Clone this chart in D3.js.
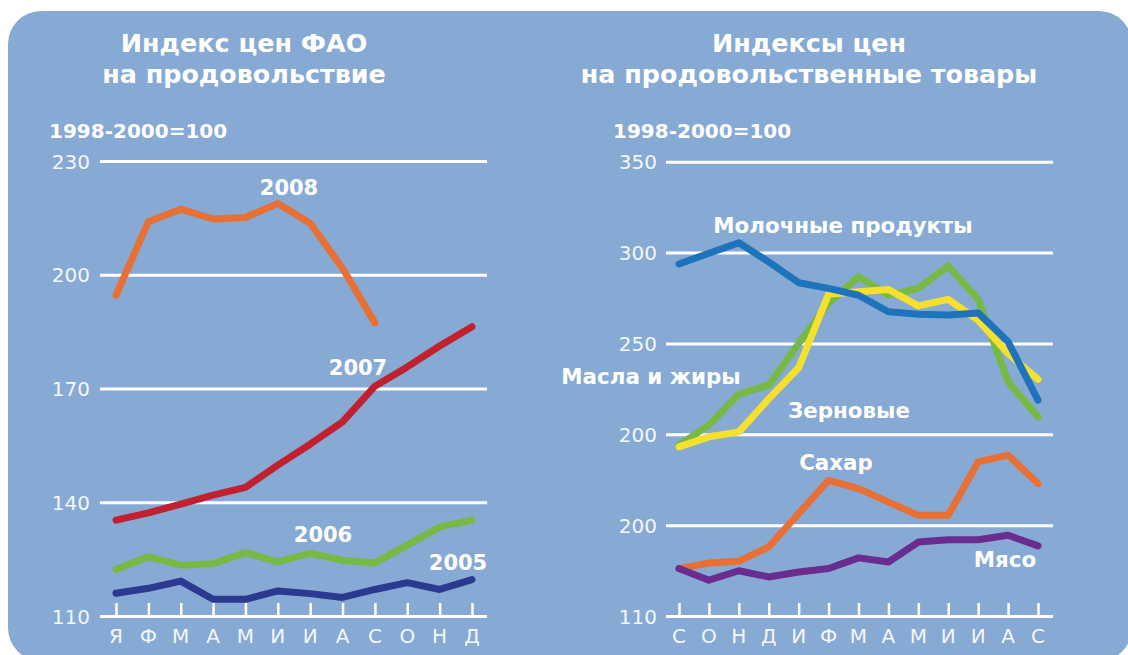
<!DOCTYPE html>
<html>
<head>
<meta charset="utf-8">
<script src="https://cdn.jsdelivr.net/npm/d3@7"></script>
<style>
  html, body { margin: 0; padding: 0; background: #ffffff; }
  svg { display: block; }
  text { font-family: "DejaVu Sans", Verdana, sans-serif; }
</style>
</head>
<body>
<svg id="chart" width="1128" height="655"></svg>
<script>
// ---------- DATA ----------
const leftMonths = ["Я","Ф","М","А","М","И","И","А","С","О","Н","Д"];
const leftTickValues = [230, 200, 170, 140, 110];
const s2008 = [194.6, 214.0, 217.3, 214.7, 215.1, 218.8, 213.6, 201.7, 187.3];
const s2007 = [135.3, 137.2, 139.5, 141.9, 143.9, 149.8, 155.3, 161.2, 170.6, 175.7, 181.2, 186.3];
const s2006 = [122.3, 125.6, 123.4, 123.8, 126.7, 124.3, 126.5, 124.7, 124.0, 128.7, 133.5, 135.3];
const s2005 = [116.0, 117.3, 119.2, 114.4, 114.4, 116.6, 115.9, 114.9, 117.0, 118.8, 117.0, 119.6];

const rightMonths = ["С","О","Н","Д","И","Ф","М","А","М","И","И","А","С"];
const rightTickValues = [350, 300, 250, 200, 150, 100];
const rightTickLabels = ["350", "300", "250", "200", "200", "110"];
const dairy   = [293.7, 299.6, 305.4, 294.9, 283.4, 280.3, 276.5, 267.4, 266.1, 265.6, 266.8, 250.9, 218.8];
const oils    = [194.0, 205.0, 222.1, 227.0, 250.0, 272.0, 286.7, 276.6, 280.3, 292.6, 274.2, 228.9, 209.6];
const cereals = [193.1, 198.6, 201.3, 219.5, 236.6, 277.1, 278.4, 279.7, 270.7, 274.2, 262.8, 244.5, 230.2];
const sugar   = [126.1, 129.2, 130.1, 138.0, 156.4, 174.7, 170.1, 162.8, 155.4, 155.4, 184.8, 188.5, 172.9];
const meat    = [126.1, 119.7, 124.9, 121.5, 124.2, 126.1, 132.0, 129.7, 140.7, 142.0, 142.0, 144.4, 138.6];

// ---------- STYLE ----------
const panelColor = "#86aad4";
const white = "#ffffff";
const tickTextColor = "#f4f7fb";

const svg = d3.select("#chart");

// background panel
svg.append("rect")
  .attr("x", 8).attr("y", 11)
  .attr("width", 1124).attr("height", 650)
  .attr("rx", 33).attr("ry", 33)
  .attr("fill", panelColor);

function drawPanel(opts) {
  const g = svg.append("g");
  const x = d3.scalePoint()
    .domain(d3.range(opts.months.length))
    .range([opts.x0, opts.x1]);
  const y = d3.scaleLinear()
    .domain(opts.yDomain)
    .range([opts.yBottom, opts.yTop]);

  // gridlines (y axis)
  const yAxis = d3.axisLeft(y)
    .tickValues(opts.tickValues)
    .tickSize(-(opts.gridX1 - opts.gridX0))
    .tickPadding(10)
    .tickFormat((d, i) => opts.tickLabels ? opts.tickLabels[i] : d);
  const ya = g.append("g")
    .attr("transform", `translate(${opts.gridX0},0)`)
    .call(yAxis);
  ya.select(".domain").remove();
  ya.selectAll(".tick line")
    .attr("stroke", white).attr("stroke-width", 3);
  ya.selectAll(".tick text")
    .attr("fill", tickTextColor)
    .attr("font-size", 20)
    .attr("x", opts.labelX - opts.gridX0)
    .attr("dy", "0.35em")
    .style("font-family", "'DejaVu Sans', Verdana, sans-serif");

  // x axis with small upward ticks
  const xAxis = d3.axisTop(x)
    .tickSize(13)
    .tickFormat("");
  const xa = g.append("g")
    .attr("transform", `translate(0,${opts.yBottom})`)
    .call(xAxis);
  xa.select(".domain").remove();
  xa.selectAll(".tick line")
    .attr("stroke", white).attr("stroke-width", 2.5);

  // month labels
  g.append("g").selectAll("text")
    .data(opts.months)
    .join("text")
    .attr("x", (d, i) => x(i))
    .attr("y", opts.yBottom + 27)
    .attr("text-anchor", "middle")
    .attr("fill", tickTextColor)
    .attr("font-size", 20)
    .text(d => d);

  const line = d3.line()
    .x((d, i) => x(i))
    .y(d => y(d));

  opts.series.forEach(s => {
    g.append("path")
      .datum(s.values)
      .attr("d", line)
      .attr("fill", "none")
      .attr("stroke", s.color)
      .attr("stroke-width", 7)
      .attr("stroke-linecap", "round")
      .attr("stroke-linejoin", "round");
  });

  opts.labels.forEach(l => {
    g.append("text")
      .attr("x", l.x).attr("y", l.y)
      .attr("text-anchor", l.anchor || "middle")
      .attr("fill", white)
      .attr("font-size", l.size || 20)
      .attr("font-weight", "bold")
      .text(l.text);
  });

  // titles
  opts.title.forEach((t, i) => {
    g.append("text")
      .attr("x", opts.titleX)
      .attr("y", 52 + i * 31)
      .attr("text-anchor", "middle")
      .attr("fill", white)
      .attr("font-size", 25.4)
      .attr("font-weight", "bold")
      .text(t);
  });
  g.append("text")
    .attr("x", opts.baseX).attr("y", 138)
    .attr("fill", white)
    .attr("font-size", 20)
    .attr("font-weight", "bold")
    .text("1998-2000=100");
}

drawPanel({
  months: leftMonths,
  x0: 116, x1: 472,
  gridX0: 100, gridX1: 487, labelX: 90,
  yDomain: [110, 230], yBottom: 616, yTop: 161,
  tickValues: leftTickValues,
  series: [
    { values: s2005, color: "#2b3990" },
    { values: s2006, color: "#76b944" },
    { values: s2007, color: "#c1202f" },
    { values: s2008, color: "#e87035" }
  ],
  labels: [
    { text: "2008", x: 289, y: 195, size: 21 },
    { text: "2007", x: 358, y: 375, size: 21 },
    { text: "2006", x: 323, y: 542, size: 21 },
    { text: "2005", x: 458, y: 570, size: 21 }
  ],
  title: ["Индекс цен ФАО", "на продовольствие"],
  titleX: 244,
  baseX: 49
});

drawPanel({
  months: rightMonths,
  x0: 679, x1: 1038,
  gridX0: 666, gridX1: 1053, labelX: 657,
  yDomain: [100, 350], yBottom: 616, yTop: 161.7,
  tickValues: rightTickValues,
  tickLabels: rightTickLabels,
  series: [
    { values: oils, color: "#76b944" },
    { values: cereals, color: "#f5e02d" },
    { values: dairy, color: "#1d74bd" },
    { values: sugar, color: "#e87035" },
    { values: meat, color: "#6a2c8f" }
  ],
  labels: [
    { text: "Молочные продукты", x: 843, y: 233, size: 21.4 },
    { text: "Масла и жиры", x: 651, y: 384, size: 21.4 },
    { text: "Зерновые", x: 849, y: 418, size: 21.4 },
    { text: "Сахар", x: 836, y: 470, size: 21.4 },
    { text: "Мясо", x: 1005, y: 567, size: 21.4 }
  ],
  title: ["Индексы цен", "на продовольственные товары"],
  titleX: 809,
  baseX: 613
});
</script>
</body>
</html>
